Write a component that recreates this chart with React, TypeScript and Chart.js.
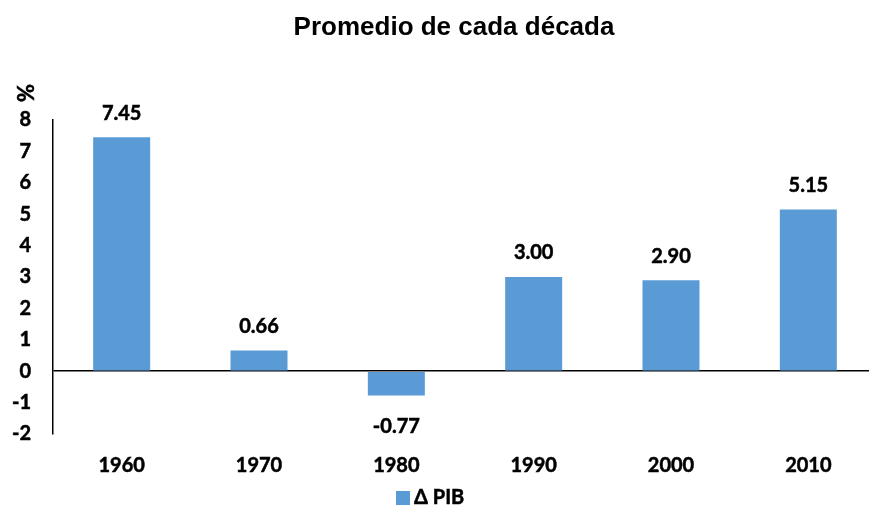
import React, { useEffect, useRef } from 'react';
import { Chart, registerables } from 'chart.js';

Chart.register(...registerables);

const categories: string[] = ['1960', '1970', '1980', '1990', '2000', '2010'];
const pibValues: number[] = [7.45, 0.66, -0.77, 3.0, 2.9, 5.15];
const seriesLabel = 'Δ PIB';
const titleText = 'Promedio de cada década';
const yUnit = '%';
const yMin = -2;
const yMax = 8;
const yStep = 1;

const BAR_COLOR = '#5B9BD5';
const LABEL_FAMILY = 'Lato';
const LABEL_SIZE = 20;

export default function App() {
  const ref = useRef<HTMLCanvasElement | null>(null);

  useEffect(() => {
    if (!ref.current) return;
    const labelFont = `bold ${LABEL_SIZE}px ${LABEL_FAMILY}`;

    const drawText = (ctx: CanvasRenderingContext2D, t: string, x: number, y: number) => {
      ctx.lineWidth = 0.5;
      ctx.strokeStyle = '#000';
      ctx.strokeText(t, x, y);
      ctx.fillText(t, x, y);
    };

    const overlay = {
      id: 'overlay',
      afterDatasetsDraw(chart: any) {
        const ctx = chart.ctx as CanvasRenderingContext2D;
        const meta = chart.getDatasetMeta(0);

        // title
        ctx.save();
        ctx.font = 'bold 26px "Liberation Sans", Arial, sans-serif';
        ctx.fillStyle = '#000';
        ctx.textAlign = 'center';
        ctx.textBaseline = 'middle';
        ctx.fillText(titleText, 454, 28);
        ctx.restore();

        // data labels
        ctx.save();
        ctx.font = labelFont;
        ctx.fillStyle = '#000';
        ctx.textAlign = 'center';
        ctx.textBaseline = 'middle';
        meta.data.forEach((bar: any, i: number) => {
          const v = pibValues[i];
          const y = v >= 0 ? bar.y - 24 : bar.y + 31;
          drawText(ctx, v.toFixed(2), bar.x, y);
        });
        ctx.restore();

        // unit label, rotated
        ctx.save();
        ctx.font = `bold 22px ${LABEL_FAMILY}`;
        ctx.fillStyle = '#000';
        ctx.textAlign = 'center';
        ctx.textBaseline = 'middle';
        ctx.translate(27, 93);
        ctx.rotate(-Math.PI / 2);
        drawText(ctx, yUnit, 0, 0);
        ctx.restore();

        // legend
        ctx.save();
        ctx.fillStyle = BAR_COLOR;
        ctx.fillRect(396, 491, 14, 14);
        ctx.font = labelFont;
        ctx.fillStyle = '#000';
        ctx.textAlign = 'left';
        ctx.textBaseline = 'middle';
        drawText(ctx, seriesLabel, 414, 498);
        ctx.restore();
      },
    };

    const tickFont = { family: LABEL_FAMILY, size: LABEL_SIZE, weight: 'bold' as const };

    const chart = new Chart(ref.current, {
      type: 'bar',
      data: {
        labels: categories,
        datasets: [
          {
            label: seriesLabel,
            data: pibValues,
            backgroundColor: BAR_COLOR,
            borderWidth: 0,
            barPercentage: 0.415,
            categoryPercentage: 1,
          },
        ],
      },
      options: {
        responsive: false,
        animation: false,
        layout: { padding: { left: 0, right: 31, top: 120, bottom: 0 } },
        plugins: {
          legend: { display: false },
          tooltip: { enabled: false },
          title: { display: false },
        },
        scales: {
          x: {
            grid: { display: false, drawTicks: false },
            border: { display: false },
            ticks: {
              color: '#000',
              font: tickFont,
              padding: 20,
              textStrokeColor: '#000',
              textStrokeWidth: 0.5,
            },
            afterFit: (s: any) => {
              s.height = 72;
            },
          },
          y: {
            min: yMin,
            max: yMax,
            ticks: {
              stepSize: yStep,
              color: '#000',
              font: tickFont,
              padding: 22,
              textStrokeColor: '#000',
              textStrokeWidth: 0.5,
            },
            grid: {
              drawTicks: false,
              color: (c: any) => (c.tick && c.tick.value === 0 ? '#000' : 'rgba(0,0,0,0)'),
              lineWidth: 1.5,
            },
            border: { display: true, color: '#000', width: 1.5 },
            afterFit: (s: any) => {
              s.width = 53;
            },
          },
        },
      },
      plugins: [overlay],
    });

    return () => {
      chart.destroy();
    };
  }, []);

  return (
    <div
      style={{
        position: 'fixed',
        left: 0,
        top: 0,
        width: 869,
        height: 506,
        overflow: 'hidden',
        background: '#fff',
      }}
    >
      <canvas ref={ref} width={908} height={506} style={{ display: 'block' }} />
    </div>
  );
}
